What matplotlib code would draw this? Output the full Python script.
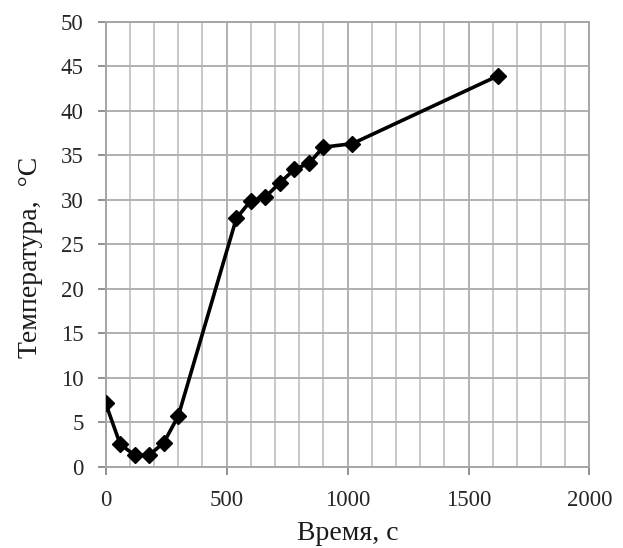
import matplotlib
matplotlib.use("Agg")
import matplotlib.pyplot as plt
from matplotlib.ticker import MultipleLocator

time_s = [0, 60, 120, 180, 240, 300, 540, 600, 660, 720, 780, 840, 900, 1020, 1620]
temp_c = [7.1, 2.5, 1.3, 1.3, 2.7, 5.7, 27.9, 29.9, 30.3, 31.9, 33.4, 34.1, 35.9, 36.3, 43.9]

x_ticks = [0, 500, 1000, 1500, 2000]
y_ticks = [0, 5, 10, 15, 20, 25, 30, 35, 40, 45, 50]
x_label = "Время, с"
y_label = "Температура,  °С"

plt.rcParams['font.family'] = ['Liberation Serif', 'DejaVu Serif']

fig = plt.figure(figsize=(6.23, 5.48), dpi=100)
ax = fig.add_axes([0.1697, 0.1484, 0.9462 - 0.1697, 0.9604 - 0.1484])

ax.set_xlim(0, 2000)
ax.set_ylim(0, 50)
ax.set_xticks(x_ticks)
ax.set_yticks(y_ticks)
ax.xaxis.set_minor_locator(MultipleLocator(100))

ax.grid(True, which='major', color='#b0b0b0', linewidth=1.4)
ax.grid(True, which='minor', axis='x', color='#c8c8c8', linewidth=1.4)
ax.set_axisbelow(True)

ax.plot(time_s, temp_c, color='black', linewidth=2.6, marker='D',
        markersize=8, markerfacecolor='black', markeredgecolor='black', zorder=3)

for s in ax.spines.values():
    s.set_color('#a6a6a6')
    s.set_linewidth(1.4)

ax.tick_params(axis='both', which='major', direction='out', length=6, width=1.4,
               color='#909090', labelsize=16.5, labelcolor='#262626')
ax.tick_params(axis='y', pad=10)
ax.tick_params(axis='x', pad=10.5)
ax.tick_params(axis='x', which='minor', length=0)

ax.set_xlabel(x_label, fontsize=20, color='#1a1a1a')
ax.set_ylabel(y_label, fontsize=20, color='#1a1a1a')
ax.xaxis.set_label_coords(0.5, -0.121)
ax.yaxis.set_label_coords(-0.13, 0.47)

fig.savefig("out.png", dpi=100)
